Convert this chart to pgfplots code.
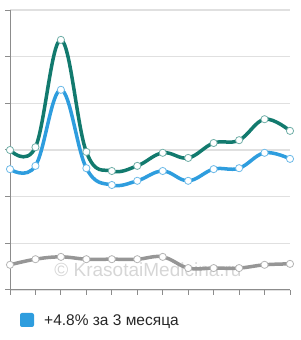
\documentclass[border=0pt]{standalone}
\usepackage{pgfplots}
\pgfplotsset{compat=1.18}
\usepackage{fontspec}
\setmainfont{Liberation Sans}
\definecolor{tealc}{RGB}{18,122,110}
\definecolor{bluec}{RGB}{46,157,222}
\definecolor{grayc}{RGB}{150,150,150}
\pgfplotstableread{
x teal blue gray
0 3.00 2.59 0.54
1 3.06 2.66 0.66
2 5.36 4.29 0.71
3 2.96 2.61 0.66
4 2.55 2.25 0.66
5 2.66 2.34 0.66
6 2.94 2.55 0.71
7 2.83 2.34 0.47
8 3.15 2.59 0.47
9 3.21 2.61 0.47
10 3.66 2.94 0.54
11 3.41 2.81 0.56
}\datatable
\begin{document}
\begin{tikzpicture}
\path[use as bounding box] (0pt,0pt) rectangle (300pt,340pt);
\node[text=black!16, font=\fontsize{19}{22}\selectfont, anchor=center] at (148pt,70pt) {© KrasotaiMedicina.ru};
\begin{axis}[
  at={(10pt,50pt)}, anchor=south west,
  scale only axis, width=280pt, height=280pt,
  xmin=0, xmax=11, ymin=0, ymax=6,
  axis x line=bottom, axis y line=left,
  axis line style={-, draw=black!45, line width=1pt},
  xtick={0,...,11}, ytick={0,...,6},
  xticklabels={}, yticklabels={},
  tick align=outside, major tick length=5pt,
  tick style={black!45, line width=1pt},
  ymajorgrids, grid style={black!12, line width=1.3pt},
  clip=false,
  every axis plot/.append style={smooth, tension=0.65, line width=3.5pt,
     mark=*, mark size=3.6pt},
]
\addplot[grayc, mark options={fill=white, draw=grayc!70, line width=0.8pt}] table[x=x,y=gray] {\datatable};
\addplot[tealc, mark options={fill=white, draw=tealc!60, line width=0.8pt}] table[x=x,y=teal] {\datatable};
\addplot[bluec, mark options={fill=white, draw=bluec!70, line width=0.8pt}] table[x=x,y=blue] {\datatable};
\end{axis}
\fill[bluec, rounded corners=2pt] (20pt,13pt) rectangle (34pt,27pt);
\node[anchor=base west, inner sep=0pt, font=\fontsize{15.5}{18}\selectfont, text=black!85] at (44pt,14pt) {+4.8\% за 3 месяца};
\end{tikzpicture}
\end{document}
